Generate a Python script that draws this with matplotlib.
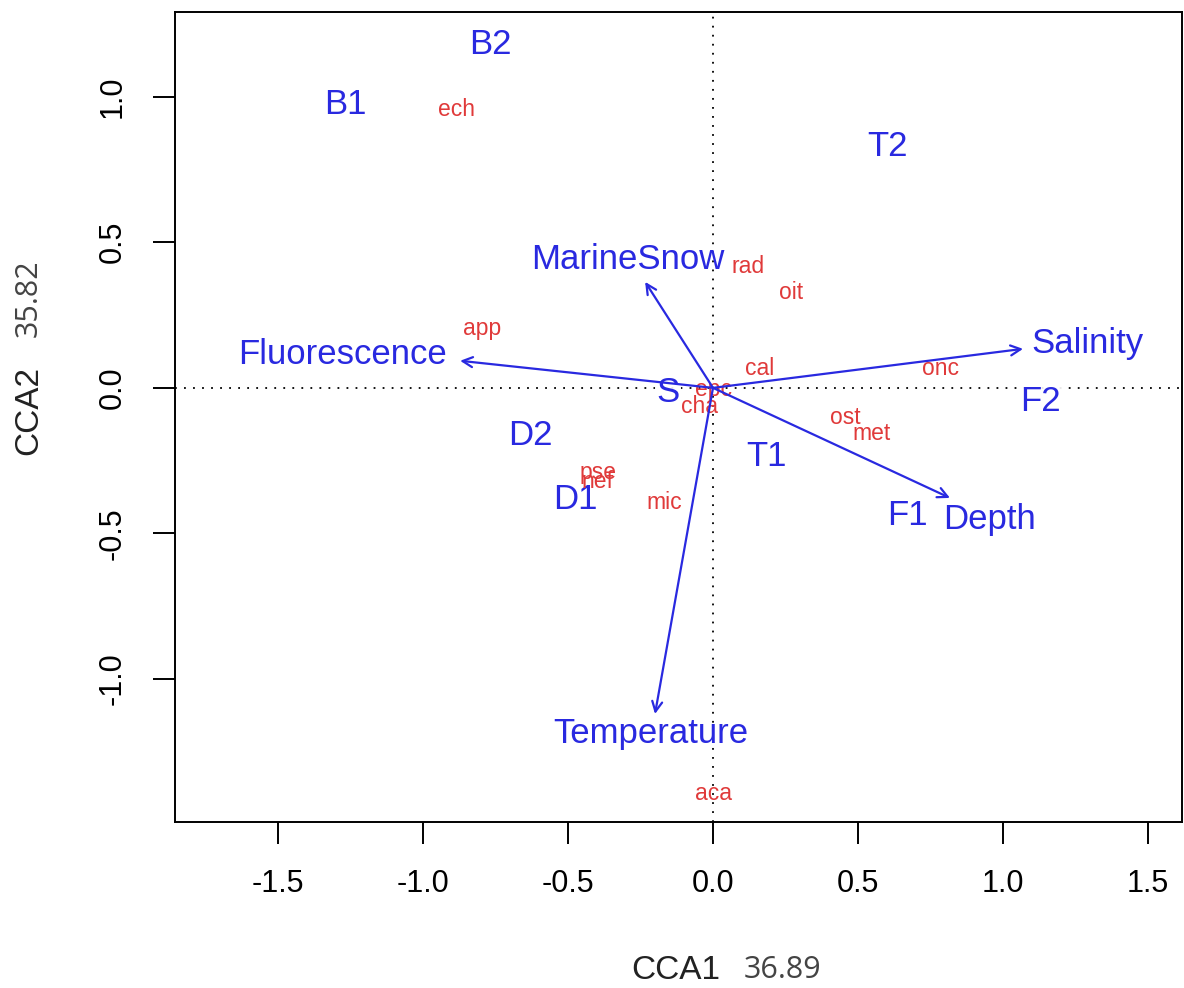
import matplotlib
matplotlib.use("Agg")
import matplotlib.pyplot as plt
import numpy as np

# Site scores (blue labels)
sites = ["B2", "B1", "T2", "S", "D2", "T1", "D1", "F1", "F2"]
site_x = [-0.766, -1.269, 0.603, -0.155, -0.631, 0.183, -0.476, 0.669, 1.128]
site_y = [1.180, 0.973, 0.828, -0.017, -0.165, -0.234, -0.385, -0.440, -0.048]

# Species scores (red labels)
species = ["ech", "rad", "oit", "app", "cal", "onc", "epc", "cha",
           "ost", "met", "pse", "nef", "mic", "aca"]
spec_x = [-0.886, 0.121, 0.269, -0.797, 0.162, 0.786, 0.000, -0.045,
          0.455, 0.545, -0.397, -0.397, -0.169, 0.000]
spec_y = [0.955, 0.416, 0.326, 0.203, 0.065, 0.065, -0.007, -0.065,
          -0.103, -0.158, -0.292, -0.320, -0.395, -1.392]

# Environmental biplot arrows
env = ["Salinity", "Fluorescence", "MarineSnow", "Depth", "Temperature"]
env_x = [1.069, -0.872, -0.234, 0.817, -0.200]
env_y = [0.134, 0.093, 0.364, -0.378, -1.120]

xticks = [-1.5, -1.0, -0.5, 0.0, 0.5, 1.0, 1.5]
yticks = [-1.0, -0.5, 0.0, 0.5, 1.0]

blue = "#2929e0"
red = "#e03a3a"

plt.rcParams["font.family"] = ["Liberation Sans", "DejaVu Sans"]

fig = plt.figure(figsize=(11.84, 9.88), dpi=100)
ax = fig.add_axes([0.1478, 0.168, 0.8505, 0.8202])
ax.set_xlim(-1.855, 1.617)
ax.set_ylim(-1.491, 1.292)

ax.axhline(0, color="black", linestyle=(0, (1, 4)), linewidth=1.3, zorder=1)
ax.axvline(0, color="black", linestyle=(0, (1, 4)), linewidth=1.3, zorder=1)

for name, x, y in zip(sites, site_x, site_y):
    ax.text(x, y, name, color=blue, fontsize=25, ha="center", va="center", zorder=2,
            bbox=dict(facecolor="white", edgecolor="none", pad=1, alpha=0.9))

for name, x, y in zip(species, spec_x, spec_y):
    ax.text(x, y, name, color=red, fontsize=16.5, ha="center", va="center", zorder=3)

# label nudges relative to arrow heads
lab_dx = [0.03, -0.045, -0.06, -0.025, -0.014]
lab_dy = [0.02, 0.02, 0.02, -0.075, -0.01]

for name, x, y, dx, dy in zip(env, env_x, env_y, lab_dx, lab_dy):
    ax.annotate("", xy=(x, y), xytext=(0, 0),
                arrowprops=dict(arrowstyle="->", color=blue, lw=1.6,
                                mutation_scale=18, shrinkA=0, shrinkB=0),
                zorder=4)
    if abs(x) > abs(y):
        ha = "left" if x > 0 else "right"
        ax.text(x + dx, y + dy, name, color=blue, fontsize=25, ha=ha,
                va="center", zorder=5)
    else:
        ax.text(x + dx, y + dy, name, color=blue, fontsize=25, ha="center",
                va="bottom" if y > 0 else "top", zorder=5)

for side in ax.spines.values():
    side.set_linewidth(1.4)
ax.set_xticks(xticks)
ax.set_yticks(yticks)
ax.set_xticklabels([f"{t:.1f}" for t in xticks])
ax.set_yticklabels([f"{t:.1f}" for t in yticks], rotation=90, va="center")
ax.tick_params(length=16, width=1.4, labelsize=22, pad=18)

fig.text(0.608, 0.018, "CCA1", fontsize=24, ha="right", va="center",
         color="#222222")
fig.text(0.694, 0.018, "36.89", fontsize=22, ha="right", va="center",
         color="#444444", family=["Open Sans", "DejaVu Sans"])
fig.text(0.0245, 0.585, "CCA2", fontsize=24, rotation=90, ha="center",
         va="center", color="#222222")
fig.text(0.0245, 0.698, "35.82", fontsize=22, rotation=90, ha="center",
         va="center", color="#444444", family=["Open Sans", "DejaVu Sans"])

fig.savefig("out.png", dpi=100, facecolor="white")
